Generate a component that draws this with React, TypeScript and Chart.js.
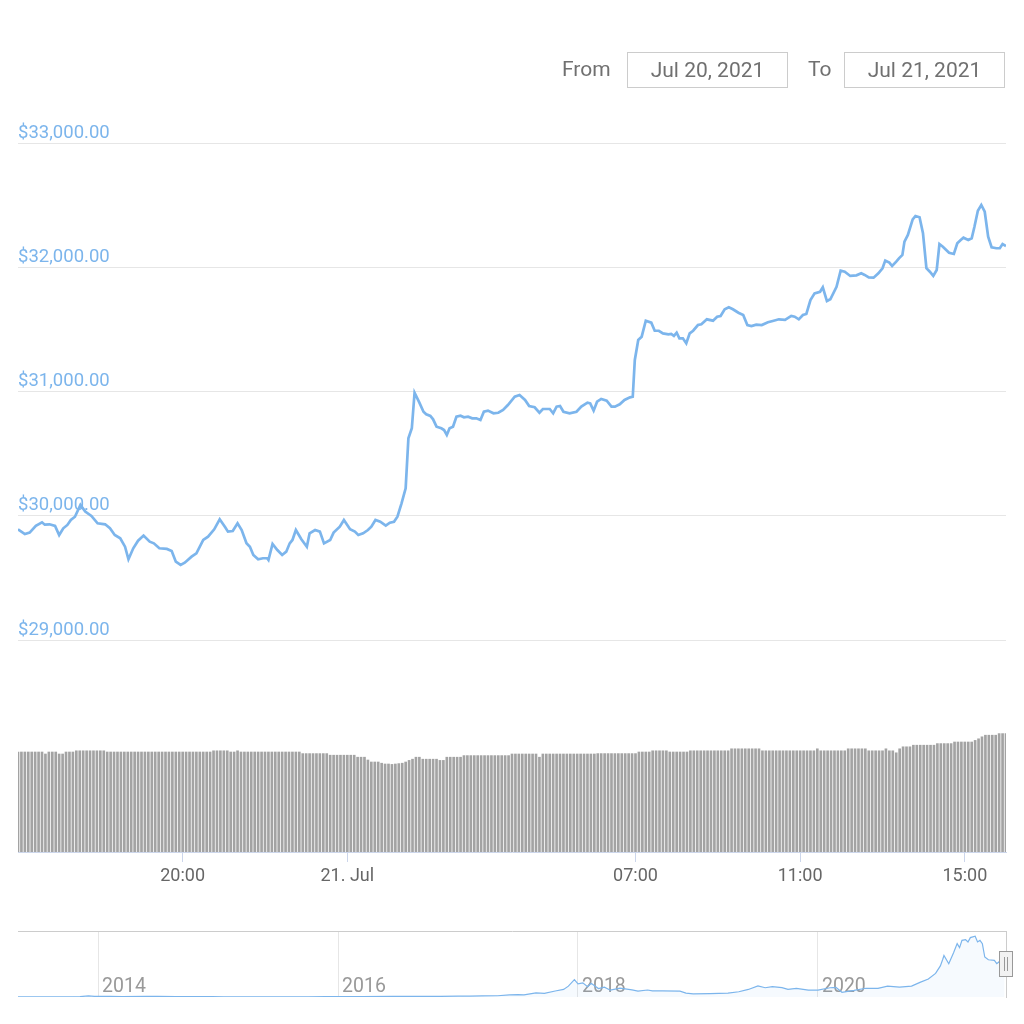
import React, { useEffect, useRef } from 'react';
import { Chart, registerables } from 'chart.js';

Chart.register(...registerables);

// ---- Price series: minutes since 20 Jul 2021 16:00, price in USD ----
const priceMinutes = [
  0, 10, 17, 26, 35, 39, 46, 54, 60, 66, 72, 77, 83, 91, 98, 107, 116, 127, 134, 141,
  149, 156, 161, 168, 175, 183, 192, 198, 206, 217, 224, 230, 237, 243, 253, 260, 270, 277, 286, 294,
  302, 306, 313, 320, 326, 333, 338, 343, 350, 357, 363, 365, 371, 378, 385, 391, 396, 400, 405, 413,
  421, 425, 433, 440, 446, 455, 460, 469, 475, 484, 491, 496, 503, 510, 515, 521, 528, 536, 542, 548,
  553, 559, 565, 569, 574, 578, 585, 591, 595, 601, 605, 610, 617, 621, 625, 629, 634, 639, 645, 650,
  656, 662, 668, 674, 679, 685, 693, 700, 707, 714, 724, 731, 739, 745, 753, 760, 765, 775, 780, 785,
  790, 795, 804, 814, 821, 830, 834, 839, 844, 850, 858, 865, 870, 877, 884, 892, 896, 899, 904, 909,
  915, 923, 928, 934, 940, 948, 952, 956, 960, 964, 969, 974, 979, 984, 991, 996, 1004, 1013, 1019, 1024,
  1030, 1036, 1042, 1050, 1057, 1063, 1069, 1076, 1084, 1093, 1100, 1109, 1118, 1127, 1132, 1138, 1144, 1149, 1155, 1161,
  1169, 1173, 1179, 1184, 1193, 1199, 1205, 1213, 1222, 1229, 1234, 1240, 1247, 1254, 1260, 1264, 1270, 1274, 1280, 1284,
  1289, 1292, 1297, 1304, 1308, 1314, 1319, 1324, 1329, 1334, 1339, 1343, 1348, 1357, 1364, 1369, 1374, 1378, 1385, 1390,
  1394, 1399, 1404, 1409, 1414, 1419, 1426, 1431, 1435, 1440,
];
const priceUsd = [
  29891, 29853, 29864, 29918, 29947, 29928, 29931, 29918, 29845, 29899, 29926, 29966, 29992, 30087, 30033, 29998, 29939, 29931, 29899, 29845,
  29819, 29751, 29650, 29738, 29799, 29840, 29791, 29778, 29738, 29733, 29716, 29630, 29604, 29622, 29671, 29698, 29805, 29832, 29891, 29972,
  29907, 29872, 29877, 29939, 29885, 29778, 29751, 29684, 29650, 29658, 29658, 29644, 29773, 29724, 29684, 29711, 29778, 29805, 29885, 29811,
  29751, 29859, 29885, 29872, 29778, 29805, 29864, 29912, 29966, 29891, 29872, 29845, 29859, 29885, 29912, 29966, 29952, 29920, 29944, 29952,
  29992, 30100, 30221, 30623, 30704, 30990, 30910, 30837, 30817, 30803, 30776, 30717, 30704, 30690, 30650, 30704, 30717, 30797, 30805, 30792,
  30797, 30784, 30784, 30771, 30837, 30846, 30825, 30829, 30851, 30891, 30958, 30972, 30932, 30883, 30873, 30829, 30859, 30859, 30825, 30878,
  30883, 30837, 30825, 30837, 30878, 30910, 30905, 30846, 30918, 30940, 30926, 30878, 30878, 30897, 30932, 30953, 30958, 31254, 31415, 31441,
  31570, 31554, 31489, 31489, 31468, 31460, 31463, 31447, 31473, 31428, 31428, 31388, 31468, 31489, 31535, 31541, 31581, 31570, 31602, 31608,
  31662, 31678, 31662, 31634, 31616, 31535, 31527, 31538, 31535, 31557, 31567, 31581, 31576, 31608, 31602, 31581, 31616, 31624, 31736, 31790,
  31803, 31839, 31728, 31742, 31843, 31972, 31964, 31930, 31935, 31951, 31938, 31919, 31916, 31951, 31992, 32053, 32037, 32010, 32045, 32072,
  32099, 32206, 32260, 32386, 32412, 32402, 32273, 31992, 31964, 31930, 31978, 32187, 32165, 32117, 32107, 32193, 32219, 32238, 32219, 32233,
  32326, 32455, 32501, 32447, 32246, 32161, 32153, 32153, 32187, 32171,
];

// ---- 24h volume (billion USD), one bar every 5 minutes ----
const volumeStepMinutes = 5;
const volumeBn = [
  25.0, 25.0, 25.0, 25.0, 25.0, 25.0, 25.0, 25.0, 24.5, 25.0, 25.0, 25.0,
  24.5, 24.5, 25.0, 25.0, 25.0, 25.3, 25.3, 25.3, 25.3, 25.3, 25.3, 25.3,
  25.3, 25.3, 25.0, 25.0, 25.0, 25.0, 25.0, 25.0, 25.0, 25.0, 25.0, 25.0,
  25.0, 25.0, 25.0, 25.0, 25.0, 25.0, 25.0, 25.0, 25.0, 25.0, 25.0, 25.0,
  25.0, 25.0, 25.0, 25.0, 25.0, 25.0, 25.0, 25.0, 25.0, 25.3, 25.3, 25.3,
  25.3, 25.3, 25.0, 25.0, 25.3, 25.0, 25.0, 25.0, 25.0, 25.0, 25.0, 25.0,
  25.0, 25.0, 25.0, 25.0, 25.0, 25.0, 25.0, 25.0, 25.0, 25.0, 25.0, 24.6,
  24.6, 24.6, 24.6, 24.6, 24.6, 24.6, 24.6, 24.2, 24.2, 24.2, 24.2, 24.2,
  24.2, 24.2, 24.2, 23.7, 23.7, 23.7, 23.0, 22.5, 22.5, 22.5, 22.2, 22.0,
  22.0, 21.9, 22.0, 22.1, 22.2, 22.5, 22.9, 23.2, 23.7, 23.7, 23.2, 23.2,
  23.2, 23.2, 23.2, 22.9, 22.9, 23.7, 23.7, 23.7, 23.7, 23.7, 24.1, 24.1,
  24.1, 24.1, 24.1, 24.1, 24.1, 24.1, 24.1, 24.1, 24.1, 24.1, 24.1, 24.1,
  24.5, 24.5, 24.5, 24.5, 24.5, 24.5, 24.5, 24.5, 23.7, 24.5, 24.5, 24.5,
  24.5, 24.5, 24.5, 24.5, 24.5, 24.5, 24.5, 24.5, 24.5, 24.5, 24.5, 24.5,
  24.5, 24.6, 24.6, 24.6, 24.6, 24.6, 24.6, 24.6, 24.6, 24.6, 24.6, 24.6,
  24.6, 25.0, 25.0, 25.0, 25.0, 25.3, 25.3, 25.3, 25.3, 25.3, 25.0, 25.0,
  25.0, 25.0, 25.0, 25.0, 25.3, 25.3, 25.3, 25.3, 25.3, 25.3, 25.3, 25.3,
  25.3, 25.3, 25.3, 25.3, 25.8, 25.8, 25.8, 25.8, 25.8, 25.8, 25.8, 25.8,
  25.8, 25.3, 25.3, 25.3, 25.3, 25.3, 25.3, 25.3, 25.3, 25.3, 25.3, 25.3,
  25.3, 25.3, 25.3, 25.3, 25.3, 25.8, 25.3, 25.3, 25.3, 25.3, 25.3, 25.3,
  25.3, 25.3, 25.8, 25.8, 25.8, 25.8, 25.8, 25.8, 25.3, 25.3, 25.3, 25.3,
  25.3, 25.8, 25.3, 25.3, 24.8, 25.8, 26.3, 26.3, 26.3, 26.7, 26.7, 26.7,
  26.7, 26.7, 26.7, 26.7, 27.1, 27.1, 27.1, 27.1, 27.1, 27.5, 27.5, 27.5,
  27.5, 27.5, 27.5, 27.9, 28.3, 28.8, 29.2, 29.2, 29.2, 29.2, 29.6, 29.6, 29.6,
];

// ---- Axis ticks ----
const priceTicks = [29000, 30000, 31000, 32000, 33000];
const xTickMinutes = [240, 480, 900, 1140, 1380];
const xTickLabels = ['20:00', '21. Jul', '07:00', '11:00', '15:00'];

// ---- Navigator (full history), decimal year vs USD ----
const navYears = [
  2013.33, 2013.45, 2013.6, 2013.75, 2013.85, 2013.92, 2013.97, 2014.1, 2014.2, 2014.4,
  2014.5, 2014.65, 2014.8, 2014.95, 2015.05, 2015.2, 2015.5, 2015.75, 2015.9, 2016.0,
  2016.2, 2016.45, 2016.6, 2016.85, 2017.0, 2017.1, 2017.2, 2017.33, 2017.43, 2017.5,
  2017.55, 2017.65, 2017.72, 2017.81, 2017.88, 2017.92, 2017.97, 2018.0, 2018.04, 2018.08,
  2018.11, 2018.17, 2018.22, 2018.27, 2018.35, 2018.45, 2018.5, 2018.58, 2018.62, 2018.7,
  2018.85, 2018.9, 2018.96, 2019.1, 2019.25, 2019.34, 2019.42, 2019.5, 2019.56, 2019.62,
  2019.7, 2019.75, 2019.82, 2019.92, 2020.0, 2020.1, 2020.15, 2020.2, 2020.3, 2020.4,
  2020.5, 2020.58, 2020.68, 2020.78, 2020.85, 2020.92, 2020.98, 2021.02, 2021.04, 2021.05,
  2021.09, 2021.13, 2021.16, 2021.18, 2021.2, 2021.23, 2021.25, 2021.27, 2021.31, 2021.33,
  2021.35, 2021.37, 2021.39, 2021.42, 2021.47, 2021.49, 2021.51, 2021.53, 2021.555,
];
const navPrices = [
  135, 110, 95, 130, 400, 1100, 750, 650, 480, 560,
  630, 480, 380, 320, 220, 250, 280, 240, 420, 430,
  420, 700, 580, 730, 1000, 920, 1200, 1300, 2200, 2600,
  2300, 4300, 3900, 6400, 8000, 11500, 18500, 14000, 15000, 11000,
  14500, 9000, 10500, 7200, 9300, 7500, 6300, 7400, 6600, 6500,
  6300, 4200, 3300, 3600, 4100, 5600, 8000, 11800, 9800, 11000,
  10000, 8200, 9200, 7200, 7200, 9800, 10200, 5000, 7000, 9300,
  9200, 11500, 10500, 11500, 15500, 19000, 25000, 33000, 40000, 44000,
  35300, 47000, 56600, 52400, 60100, 60900, 58400, 63000, 64400, 58400,
  60100, 56600, 42400, 39500, 38800, 35300, 37400, 33500, 32000,
];
const navTickYears = [2014, 2016, 2018, 2020];

const fromDate = 'Jul 20, 2021';
const toDate = 'Jul 21, 2021';

const FONT = 'Roboto, "Noto Sans", sans-serif';
const LINE_BLUE = '#7cb5ec';

const fmtUsd = (v: number) =>
  '$' + v.toLocaleString('en-US', { minimumFractionDigits: 2, maximumFractionDigits: 2 });

export default function App() {
  const priceRef = useRef<HTMLCanvasElement>(null);
  const volRef = useRef<HTMLCanvasElement>(null);
  const navRef = useRef<HTMLCanvasElement>(null);

  useEffect(() => {
    Chart.defaults.font.family = FONT;
    const charts: Chart[] = [];

    // Price pane
    charts.push(
      new Chart(priceRef.current as HTMLCanvasElement, {
        type: 'line',
        data: {
          datasets: [
            {
              data: priceMinutes.map((m, i) => ({ x: m, y: priceUsd[i] })),
              borderColor: LINE_BLUE,
              borderWidth: 2.7,
              pointRadius: 0,
              tension: 0,
              fill: false,
            },
          ],
        },
        options: {
          responsive: false,
          animation: false,
          events: [],
          layout: { padding: { left: 18, right: 18, top: 143, bottom: 20 } },
          plugins: { legend: { display: false }, tooltip: { enabled: false } },
          scales: {
            x: { type: 'linear', min: 0, max: 1440, display: false },
            y: {
              min: 29000,
              max: 33000,
              afterBuildTicks: (s: any) => {
                s.ticks = priceTicks.map((v) => ({ value: v }));
              },
              border: { display: false },
              grid: { color: '#e6e6e6', lineWidth: 1, drawTicks: false },
              ticks: {
                mirror: true,
                padding: 0,
                labelOffset: -10,
                color: LINE_BLUE,
                font: { family: FONT, size: 18.5 },
                callback: (v: any) => fmtUsd(Number(v)),
              },
            },
          },
        },
      } as any)
    );

    // Volume pane
    charts.push(
      new Chart(volRef.current as HTMLCanvasElement, {
        type: 'bar',
        data: {
          datasets: [
            {
              data: volumeBn.map((v, i) => ({ x: i * volumeStepMinutes, y: v })),
              backgroundColor: '#a3a3a3',
              borderWidth: 0,
              barThickness: 2,
            },
          ],
        },
        options: {
          responsive: false,
          animation: false,
          events: [],
          layout: { padding: { left: 18, right: 18, top: 72, bottom: 12 } },
          plugins: { legend: { display: false }, tooltip: { enabled: false } },
          scales: {
            x: {
              type: 'linear',
              min: 0,
              max: 1440,
              offset: false,
              afterBuildTicks: (s: any) => {
                s.ticks = xTickMinutes.map((v) => ({ value: v }));
              },
              afterFit: (s: any) => {
                s.height = 36;
              },
              grid: {
                offset: false,
                drawOnChartArea: false,
                drawTicks: true,
                tickLength: 10,
                color: '#ccd6eb',
              },
              border: { display: true, color: '#ccd6eb', width: 1 },
              ticks: {
                padding: 4,
                maxRotation: 0,
                autoSkip: false,
                color: '#666666',
                font: { family: FONT, size: 18 },
                callback: (v: any) => {
                  const idx = xTickMinutes.indexOf(Number(v));
                  return idx >= 0 ? xTickLabels[idx] : '';
                },
              },
            },
            y: { min: 0, max: 30, display: false },
          },
        },
      } as any)
    );

    // Navigator
    const handlePlugin = {
      id: 'navHandle',
      afterDraw(chart: any) {
        const { ctx, chartArea } = chart;
        const cx = chartArea.right;
        const cy = (chartArea.top + chartArea.bottom) / 2;
        ctx.save();
        ctx.fillStyle = '#f2f2f2';
        ctx.strokeStyle = '#999999';
        ctx.lineWidth = 1;
        ctx.fillRect(cx - 7, cy - 13, 14, 26);
        ctx.strokeRect(cx - 6.5, cy - 12.5, 13, 25);
        ctx.beginPath();
        ctx.moveTo(cx - 1.5, cy - 7);
        ctx.lineTo(cx - 1.5, cy + 7);
        ctx.moveTo(cx + 1.5, cy - 7);
        ctx.lineTo(cx + 1.5, cy + 7);
        ctx.stroke();
        ctx.restore();
      },
    };

    charts.push(
      new Chart(navRef.current as HTMLCanvasElement, {
        type: 'line',
        data: {
          datasets: [
            {
              data: navYears.map((yr, i) => ({ x: yr, y: navPrices[i] })),
              borderColor: LINE_BLUE,
              borderWidth: 1.2,
              backgroundColor: 'rgba(124,181,236,0.07)',
              fill: 'origin',
              pointRadius: 0,
              tension: 0,
            },
          ],
        },
        options: {
          responsive: false,
          animation: false,
          events: [],
          layout: { padding: { left: 18, right: 18, top: 11, bottom: 27 } },
          plugins: { legend: { display: false }, tooltip: { enabled: false } },
          scales: {
            x: {
              type: 'linear',
              min: 2013.333,
              max: 2021.567,
              afterBuildTicks: (s: any) => {
                s.ticks = navTickYears.map((v) => ({ value: v }));
              },
              afterFit: (s: any) => {
                s.height = 0;
              },
              border: { display: false },
              grid: { color: '#e6e6e6', drawTicks: false, drawOnChartArea: true },
              ticks: {
                mirror: true,
                align: 'start',
                labelOffset: 4,
                padding: -2,
                maxRotation: 0,
                autoSkip: false,
                color: '#999999',
                font: { family: FONT, size: 19.5 },
                callback: (v: any) => String(v),
              },
            },
            xTop: {
              type: 'linear',
              position: 'top',
              display: true,
              afterFit: (s: any) => {
                s.height = 0;
              },
              grid: { display: false },
              ticks: { display: false },
              border: { display: true, color: '#cccccc', width: 1 },
            },
            y: {
              min: 0,
              max: 70000,
              position: 'right',
              afterFit: (s: any) => {
                s.width = 0;
              },
              grid: { display: false },
              ticks: { display: false },
              border: { display: true, color: '#cccccc', width: 1 },
            },
          },
        },
        plugins: [handlePlugin],
      } as any)
    );

    return () => charts.forEach((c) => c.destroy());
  }, []);

  const label: React.CSSProperties = {
    position: 'absolute',
    top: 52,
    height: 35,
    lineHeight: '35px',
    fontSize: 21,
    color: '#707070',
    fontFamily: FONT,
  };
  const box: React.CSSProperties = {
    position: 'absolute',
    top: 52,
    width: 161,
    height: 36,
    boxSizing: 'border-box',
    border: '1px solid #cccccc',
    lineHeight: '34px',
    textAlign: 'center',
    fontSize: 21,
    color: '#707070',
    fontFamily: FONT,
  };

  return (
    <div
      style={{
        position: 'absolute',
        left: 0,
        top: 0,
        width: 1024,
        height: 1024,
        background: '#ffffff',
        overflow: 'hidden',
        fontFamily: FONT,
      }}
    >
      <canvas ref={priceRef} width={1024} height={660} style={{ position: 'absolute', left: 0, top: 0, width: 1024, height: 660 }} />
      <canvas ref={volRef} width={1024} height={240} style={{ position: 'absolute', left: 0, top: 660, width: 1024, height: 240 }} />
      <canvas ref={navRef} width={1024} height={104} style={{ position: 'absolute', left: 0, top: 920, width: 1024, height: 104 }} />
      <div style={{ ...label, left: 562 }}>From</div>
      <div style={{ ...box, left: 627 }}>{fromDate}</div>
      <div style={{ ...label, left: 808 }}>To</div>
      <div style={{ ...box, left: 844 }}>{toDate}</div>
    </div>
  );
}
